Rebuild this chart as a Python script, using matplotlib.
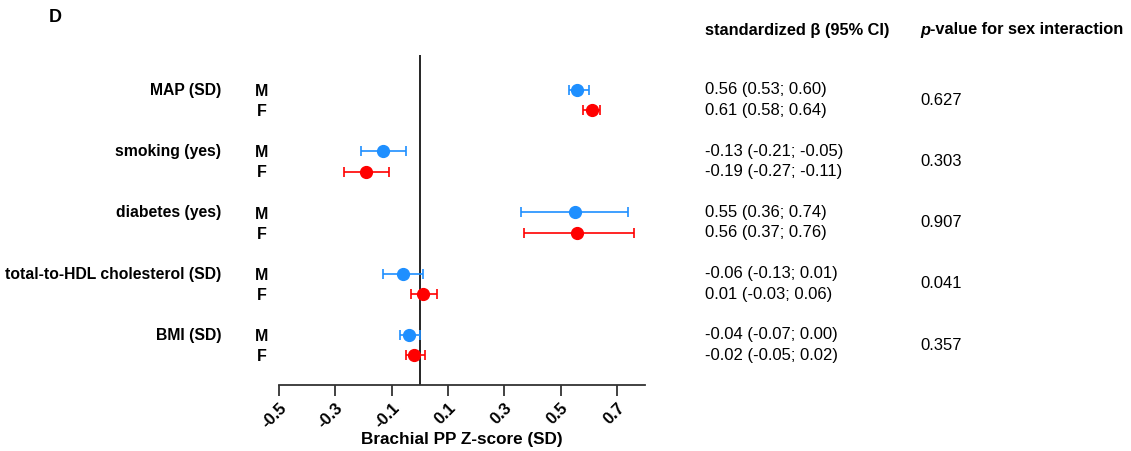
import matplotlib
matplotlib.use("Agg")
import matplotlib.pyplot as plt
from matplotlib.transforms import blended_transform_factory

plt.rcParams['font.family'] = ['Liberation Sans', 'DejaVu Sans']

# ---- data ----
categories = ["MAP (SD)", "smoking (yes)", "diabetes (yes)",
              "total-to-HDL cholesterol (SD)", "BMI (SD)"]
male_beta = [0.56, -0.13, 0.55, -0.06, -0.04]
male_lo = [0.53, -0.21, 0.36, -0.13, -0.07]
male_hi = [0.60, -0.05, 0.74, 0.01, 0.00]
female_beta = [0.61, -0.19, 0.56, 0.01, -0.02]
female_lo = [0.58, -0.27, 0.37, -0.03, -0.05]
female_hi = [0.64, -0.11, 0.76, 0.06, 0.02]
p_interaction = ["0.627", "0.303", "0.907", "0.041", "0.357"]
xticks = [-0.5, -0.3, -0.1, 0.1, 0.3, 0.5, 0.7]

W, H = 1131, 451
fig = plt.figure(figsize=(W / 100, H / 100), dpi=100)
ax = fig.add_axes([279 / W, 1 - 385 / H, (645 - 279) / W, (385 - 55) / H])

blue = "#1E8FFF"
red = "#FF0000"
f_off = 0.335

g = list(range(len(categories)))
ym = g
yf = [i + f_off for i in g]

def draw(vals, lo, hi, ys, color):
    xerr = [[v - l for v, l in zip(vals, lo)], [h - v for v, h in zip(vals, hi)]]
    ax.errorbar(vals, ys, xerr=xerr, fmt='o', color=color, ecolor=color,
                markersize=8.5, elinewidth=1.2, capsize=3.8, capthick=1.2, zorder=3)

draw(male_beta, male_lo, male_hi, ym, blue)
draw(female_beta, female_lo, female_hi, yf, red)

ax.axvline(0, color="black", lw=1.2, zorder=1)
ax.set_xlim(-0.5, 0.8)
ax.set_ylim(4.82, -0.57)
ax.set_yticks([])
for s in ["left", "top", "right"]:
    ax.spines[s].set_visible(False)
ax.spines["bottom"].set_linewidth(1.3)
ax.spines["bottom"].set_color("#333333")
ax.set_xticks(xticks)
ax.set_xticklabels([f"{t:.1f}" for t in xticks], rotation=45, ha="right",
                   rotation_mode="anchor", fontweight="bold", fontsize=12)
ax.tick_params(axis="x", direction="out", length=8, width=1.3, color="#333333", pad=3)
ax.set_xlabel("Brachial PP Z-score (SD)", fontweight="bold", fontsize=12.3, labelpad=1)

tr = blended_transform_factory(fig.transFigure, ax.transData)
for i, cat in enumerate(categories):
    ax.text(221 / W, ym[i] + 0.01, cat, transform=tr, ha="right", va="center",
            fontweight="bold", fontsize=11.3, clip_on=False)
    ax.text(262 / W, ym[i] + 0.03, "M", transform=tr, ha="center", va="center",
            fontweight="bold", fontsize=11.5, clip_on=False)
    ax.text(262 / W, yf[i] + 0.02, "F", transform=tr, ha="center", va="center",
            fontweight="bold", fontsize=11.5, clip_on=False)
    ax.text(705 / W, ym[i], f"{male_beta[i]:.2f} ({male_lo[i]:.2f}; {male_hi[i]:.2f})",
            transform=tr, ha="left", va="center", fontsize=12, clip_on=False)
    ax.text(705 / W, yf[i], f"{female_beta[i]:.2f} ({female_lo[i]:.2f}; {female_hi[i]:.2f})",
            transform=tr, ha="left", va="center", fontsize=12, clip_on=False)
    ax.text(920 / W, (ym[i] + yf[i]) / 2, p_interaction[i], transform=tr,
            ha="left", va="center", fontsize=12, clip_on=False)

fig.text(705 / W, 1 - 30 / H, "standardized β (95% CI)", ha="left", va="center",
         fontweight="bold", fontsize=11.8)
tp = fig.text(920 / W, 1 - 30 / H, "p", ha="left", va="center",
              fontweight="bold", style="italic", fontsize=11.8)
fig.add_artist(plt.Annotation("-value for sex interaction", xy=(1, 0), xycoords=tp,
                              ha="left", va="bottom", fontweight="bold", fontsize=11.8,
                              annotation_clip=False))

fig.text(55 / W, 1 - 18 / H, "D", ha="center", va="center",
         fontweight="bold", fontsize=13)

fig.savefig("out.png", dpi=100)
